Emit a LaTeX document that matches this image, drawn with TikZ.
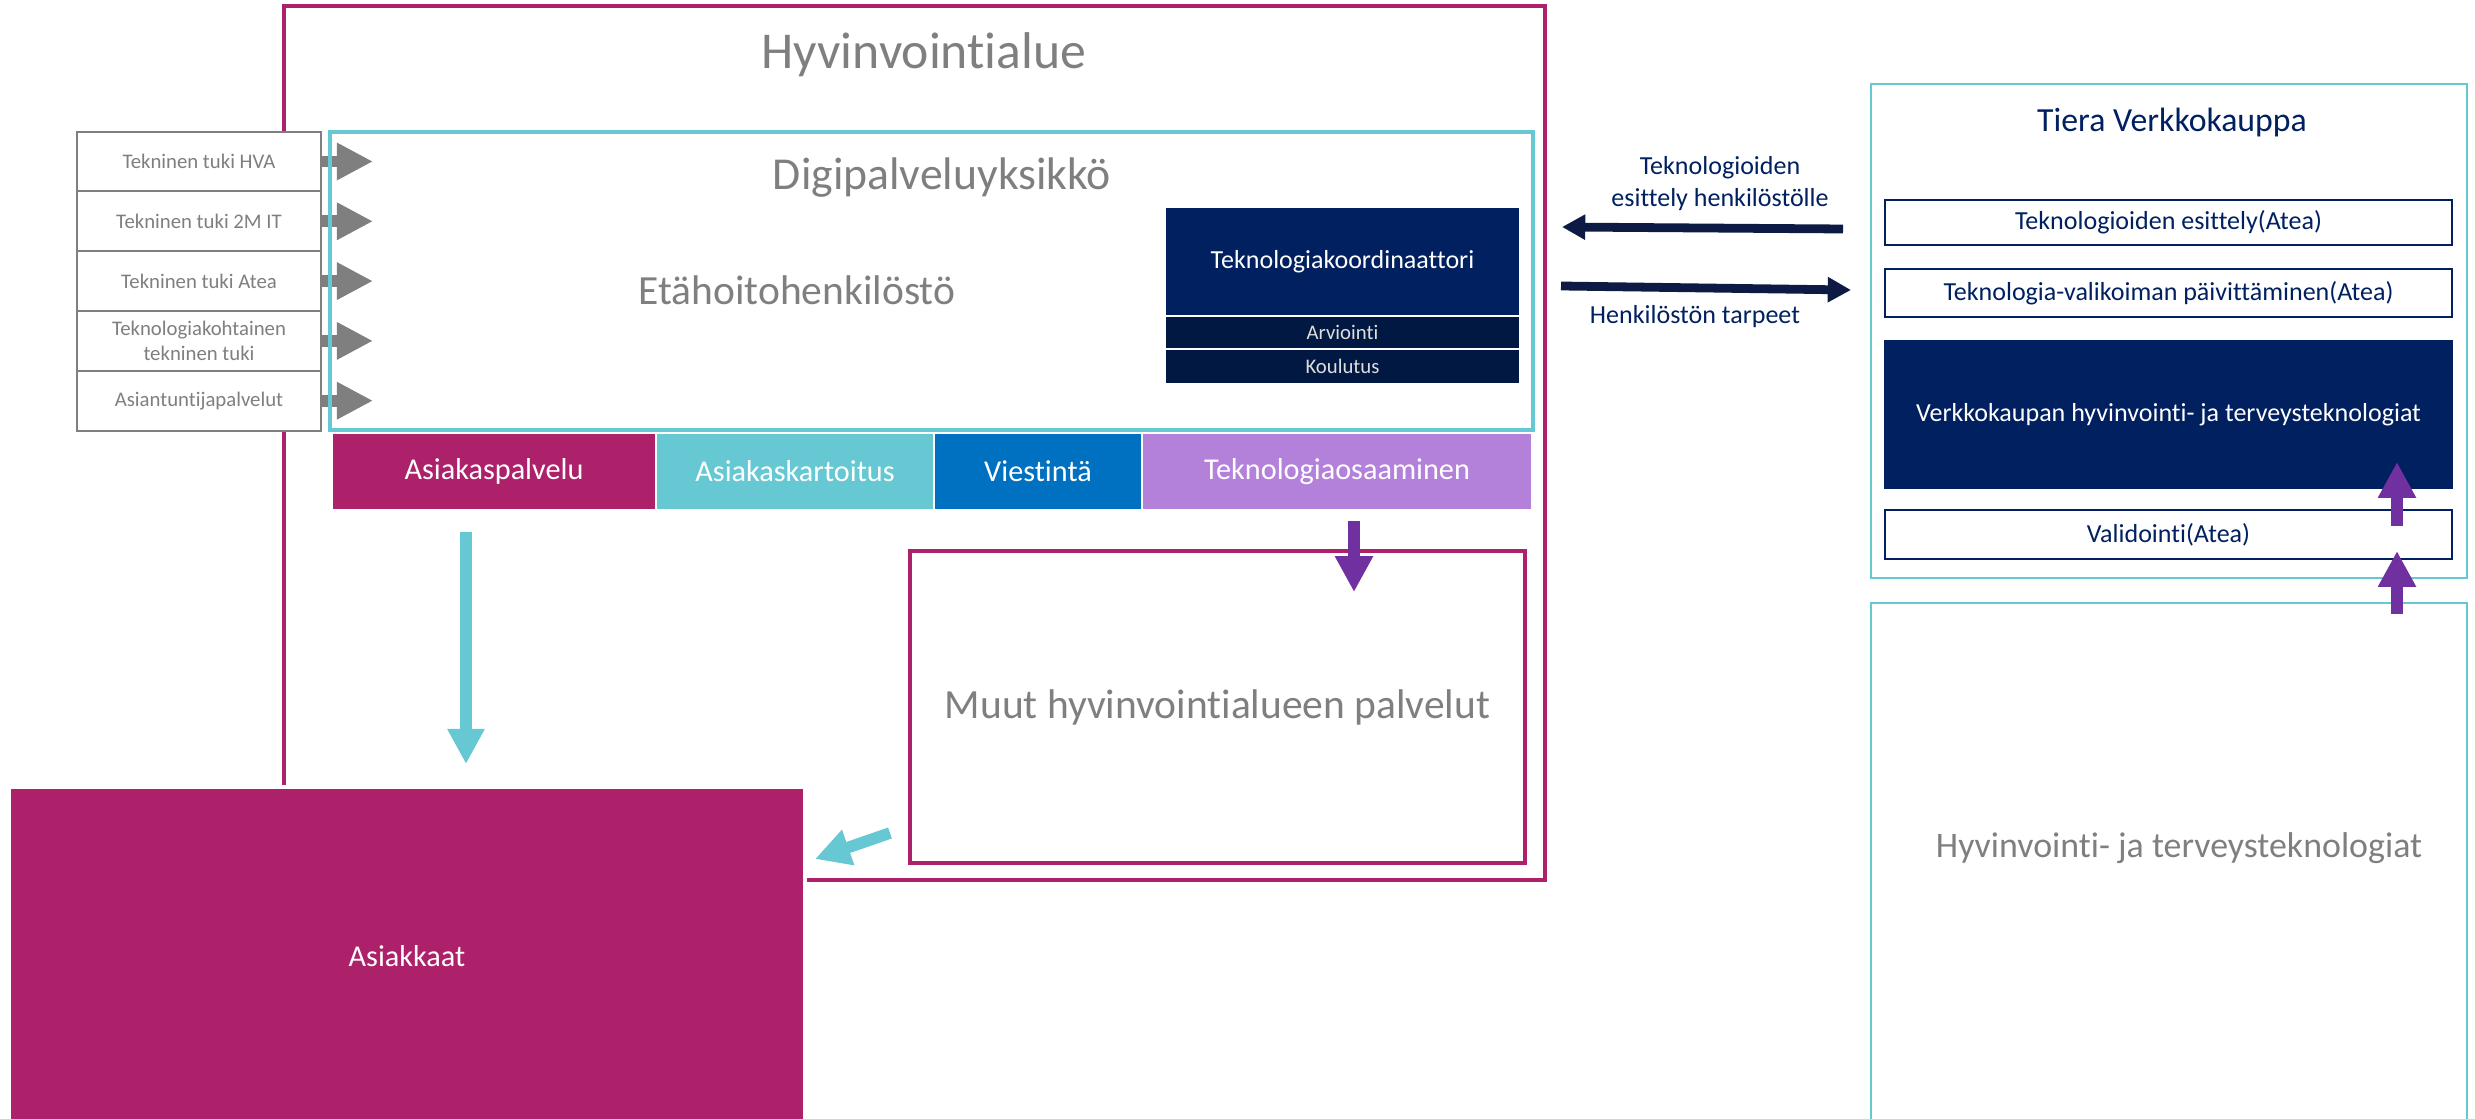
\documentclass[tikz,border=0pt]{standalone}
\usepackage{fontspec}
\setmainfont{Carlito}[Ligatures=NoCommon]
\usetikzlibrary{positioning, arrows.meta, calc}

\definecolor{hvmagenta}{HTML}{AD216A}
\definecolor{hvteal}{HTML}{66C8D2}
\definecolor{hvblue}{HTML}{0070C0}
\definecolor{hvlilac}{HTML}{B381D9}
\definecolor{hvpurple}{HTML}{7030A0}
\definecolor{hvnavy}{HTML}{002060}
\definecolor{hvdarknavy}{HTML}{001842}
\definecolor{hvgray}{HTML}{7F7F7F}
\definecolor{arrownavy}{HTML}{0C1A44}

\newcommand{\pxu}{0.01cm}

\tikzset{
    frame/.style={inner sep=0pt, outer sep=0pt},
    magentaframe/.style={frame, draw=hvmagenta, line width=1.1pt},
    tealframe/.style={frame, draw=hvteal, line width=0.8pt},
    graytext/.style={text=hvgray, inner sep=0pt},
    tukibox/.style={frame, draw=hvgray, fill=white, line width=0.6pt, minimum width=244*\pxu, minimum height=59.8*\pxu, text=hvgray, align=center, font=\fontsize{5.9}{7.2}\selectfont},
    barbox/.style={frame, draw=white, line width=0.6pt, minimum height=77*\pxu, text=white, font=\fontsize{8.6}{10}\selectfont},
    koordbox/.style={frame, fill=hvdarknavy, minimum width=353*\pxu, text=white!87!black, font=\fontsize{5.9}{7}\selectfont},
    tierabox/.style={frame, draw=hvnavy, fill=white, line width=0.8pt, minimum width=567*\pxu, text=hvnavy, font=\fontsize{7.4}{9}\selectfont},
    navylabel/.style={text=hvnavy, align=center, inner sep=0pt, font=\fontsize{7.4}{9.1}\selectfont},
    grayarrow/.style={draw=hvgray, line width=3.4pt, -{Triangle[length=10.3pt, width=10pt]}},
    tealarrow/.style={draw=hvteal, line width=3.3pt, -{Triangle[length=10pt, width=10pt]}},
    purplearrow/.style={draw=hvpurple, line width=3.4pt, -{Triangle[length=10.2pt, width=10.2pt]}},
    navyarrow/.style={draw=arrownavy, line width=2.5pt, -{Triangle[length=6.6pt, width=6.8pt]}}
}

\begin{document}
\begin{tikzpicture}[x=0.01cm, y=-0.01cm]
        \useasboundingbox (0,0) rectangle (2475,1119);
        \clip (0,0) rectangle (2475,1119);

        \node[magentaframe, minimum width=1261*\pxu, minimum height=874*\pxu] (hva) at (914.5,443) {};
        \node[graytext, font=\fontsize{14.7}{17}\selectfont] (hvatitle) at (924,55) {Hyvinvointialue};

        \node[tukibox] (tuki1) at (199,161.5) {Tekninen tuki HVA};
        \node[tukibox, below=0cm of tuki1] (tuki2) {Tekninen tuki 2M IT};
        \node[tukibox, below=0cm of tuki2] (tuki3) {Tekninen tuki Atea};
        \node[tukibox, below=0cm of tuki3] (tuki4) {Teknologiakohtainen\\tekninen tuki};
        \node[tukibox, below=0cm of tuki4] (tuki5) {Asiantuntijapalvelut};

        \foreach \i in {1,...,5}
            \draw[grayarrow] (tuki\i.east) -- ++(52,0);

        \node[tealframe, line width=0.9pt, minimum width=1203*\pxu, minimum height=298*\pxu] (digi) at (931.5,281) {};
        \node[graytext, font=\fontsize{13}{15}\selectfont] (digititle) at (942,178) {Digipalveluyksikkö};
        \node[graytext, font=\fontsize{11.8}{14}\selectfont] (etahoito) at (797,290) {Etähoitohenkilöstö};

        \node[koordbox, fill=hvnavy, minimum height=107*\pxu, text=white, font=\fontsize{7.4}{9}\selectfont] (koord) at (1342.5,261.5) {Teknologiakoordinaattori};
        \node[koordbox, minimum height=31*\pxu, below=0.02cm of koord] (arviointi) {Arviointi};
        \node[koordbox, minimum height=33*\pxu, below=0.02cm of arviointi] (koulutus) {Koulutus};

        \node[barbox, fill=hvmagenta, minimum width=324*\pxu] (asiakaspalvelu) at (494,471.5) {Asiakaspalvelu};
        \node[barbox, fill=hvteal, minimum width=278*\pxu, right=0cm of asiakaspalvelu] (asiakaskartoitus) {Asiakaskartoitus};
        \node[barbox, fill=hvblue, minimum width=208*\pxu, right=0cm of asiakaskartoitus] (viestinta) {Viestintä};
        \node[barbox, fill=hvlilac, minimum width=390*\pxu, right=0cm of viestinta] (teknoosaaminen) {Teknologiaosaaminen};

        \node[magentaframe, line width=1.3pt, minimum width=615*\pxu, minimum height=312*\pxu, text=hvgray, font=\fontsize{11.8}{14}\selectfont] (muut) at (1217.5,707) {Muut hyvinvointialueen palvelut};

        \node[frame, fill=hvmagenta, draw=white, line width=1pt, minimum width=796*\pxu, minimum height=338*\pxu, text=white, font=\fontsize{8.6}{10}\selectfont] (asiakkaat) at (407,956) {Asiakkaat};

        \node[tealframe, line width=0.7pt, minimum width=596*\pxu, minimum height=494*\pxu] (tiera) at (2169,331) {};
        \node[text=hvnavy, inner sep=0pt, font=\fontsize{9.6}{11}\selectfont] (tieratitle) at (2172,123) {Tiera Verkkokauppa};
        \node[tierabox, minimum height=45*\pxu] (esittely) at (2168.5,222.5) {Teknologioiden esittely(Atea)};
        \node[tierabox, minimum height=48*\pxu, below=0.24cm of esittely] (valikoima) {Teknologia-valikoiman päivittäminen(Atea)};
        \node[tierabox, fill=hvnavy, text=white, minimum height=147*\pxu, below=0.24cm of valikoima] (verkkotek) {Verkkokaupan hyvinvointi- ja terveysteknologiat};
        \node[tierabox, minimum height=49*\pxu, below=0.22cm of verkkotek] (validointi) {Validointi(Atea)};

        \node[tealframe, line width=0.7pt, minimum width=596*\pxu, minimum height=530*\pxu] (hyvtek) at (2169,868) {};
        \node[graytext, font=\fontsize{10.2}{12}\selectfont] (hyvtekteksti) at (2179,848) {Hyvinvointi- ja terveysteknologiat};

        \draw[navyarrow] ($(esittely.west)+(-42,6.5)$) -- node[navylabel, xshift=0.175cm, yshift=0.44cm] (esittelylabel) {Teknologioiden\\esittely henkilöstölle} ($(koord.east)+(43,-34.5)$);
        \draw[navyarrow] ($(koord.east)+(42,24.5)$) -- node[navylabel, xshift=-0.11cm, yshift=-0.29cm] (tarpeetlabel) {Henkilöstön tarpeet} ($(valikoima.west)+(-34,-3)$);

        \draw[tealarrow] ($(asiakaspalvelu.south)+(-28,22)$) -- ($(asiakkaat.north)+(59,-23)$);
        \draw[tealarrow] ($(muut.south west)+(-20,-30)$) -- ($(asiakkaat.north east)+(10,72)$);

        \draw[purplearrow] ($(teknoosaaminen.south)+(17,11)$) -- ($(muut.north)+(136.5,41)$);
        \draw[purplearrow] ($(validointi.north)+(228.5,16)$) -- ($(verkkotek.south)+(228.5,-26)$);
        \draw[purplearrow] ($(hyvtek.north)+(228,11)$) -- ($(validointi.south)+(228.5,-8)$);

\end{tikzpicture}
\end{document}
